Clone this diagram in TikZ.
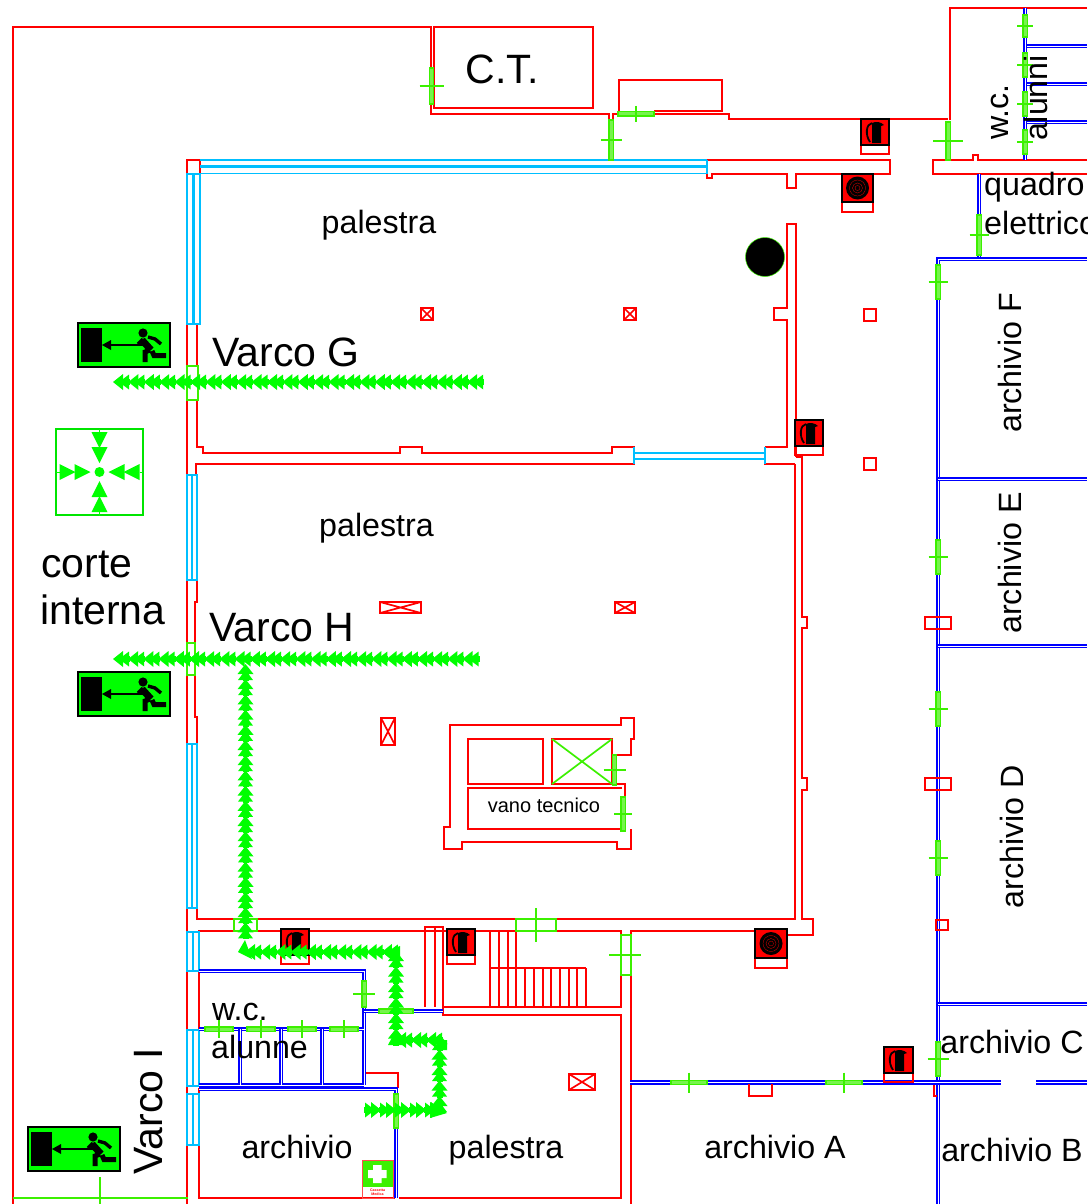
\documentclass[tikz,border=0pt]{standalone}
\usepackage{fontspec}
\setmainfont{Liberation Sans}
\definecolor{wred}{RGB}{255,0,0}
\definecolor{wblue}{RGB}{0,0,255}
\definecolor{wcyan}{RGB}{0,191,255}
\definecolor{dgreen}{RGB}{60,240,0}
\definecolor{agreen}{RGB}{0,255,0}
\tikzset{
  wl/.style={draw=wred,line width=1.7,line join=miter},
  bw/.style={draw=wblue,line width=2.1,double=white,double distance=0.7},
  cy/.style={draw=wcyan,line width=1.9},
  cym/.style={draw=wcyan,line width=2.6},
  gd/.style={draw=dgreen,line width=1.2,fill=dgreen!70},
  gw/.style={draw=dgreen,line width=1.7},
  gt/.style={draw=dgreen,line width=1.7},
  gf/.style={fill=agreen},
  lab/.style={anchor=base,inner sep=0,font=\fontsize{32.2}{32}\selectfont},
  labb/.style={anchor=base,inner sep=0,font=\fontsize{41}{41}\selectfont},
}
% vertical door: x, y1, y2, half tick
\newcommand\doorv[4]{\path[gd] (#1-2.1,#2) rectangle (#1+2.1,#3);\draw[gt] (#1-#4,#2/2+#3/2) -- (#1+#4,#2/2+#3/2);}
% horizontal door: y, x1, x2, half tick
\newcommand\doorh[4]{\path[gd] (#2,#1-2.1) rectangle (#3,#1+2.1);\draw[gt] (#2/2+#3/2,#1-#4) -- (#2/2+#3/2,#1+#4);}
% vertical window: x1, x2, y1, y2
\newcommand\winv[4]{\draw[cy] (#1,#3) rectangle (#2,#4);\draw[cym] (#1/2+#2/2,#3) -- (#1/2+#2/2,#4);}
% crossed pillar
\newcommand\pil[4]{\draw[wl] (#1,#2) rectangle (#3,#4) (#1,#2) -- (#3,#4) (#1,#4) -- (#3,#2);}
% green chain unit
\newcommand\gtri[3]{\begin{scope}[shift={(#1,#2)},rotate=#3]
  \fill[gf] (0,0) -- (10,-8) -- (10,8) -- cycle;
  \fill[gf] (6,0) -- (16,-7.5) -- (16,7.5) -- cycle;
  \fill[gf] (6,-3) rectangle (17,3);
\end{scope}}
% extinguisher
\newcommand\extA[4]{%
  \draw[wl] (#1,#4) rectangle (#3,#4+9);
  \draw[fill=wred,draw=black,line width=1.2] (#1,#2) rectangle (#3,#4);
  \begin{scope}[shift={(#1,#2)}]
    \draw[black,line width=1.8] (11,4) .. controls (5,5) and (4,16) .. (9,23);
    \fill[black] (11,4) .. controls (15,2) and (20,3) .. (23,6) -- (20,7) -- (20,24) -- (11,24) -- (11,8) -- cycle;
  \end{scope}}
\newcommand\extB[4]{%
  \draw[wl] (#1,#4) rectangle (#3,#4+10);
  \draw[fill=wred,draw=black,line width=2] (#1,#2) rectangle (#3,#4);
  \fill[black] (#1/2+#3/2,#2/2+#4/2) circle (11.5);
  \draw[wred,line width=.25] (#1/2+#3/2,#2/2+#4/2) circle (8) circle (5) circle (2.5);}
% exit sign at top-left corner
\newcommand\exitsign[2]{%
  \begin{scope}[shift={(#1,#2)}]
    \draw[fill=agreen,draw=black,line width=2.4] (0,0) rectangle (92,44);
    \fill[black] (3,5) rectangle (24,39);
    \draw[black,line width=2.6] (30,22) -- (68,22);
    \fill[black] (24,22) -- (33,17) -- (33,27) -- cycle;
    \fill[black] (65,10) circle (4.6);
    \draw[black,line width=7] (64,17) -- (73,27);
    \draw[black,line width=3.4] (70,14) -- (77,16) -- (83,21);
    \draw[black,line width=3.4] (65,16) -- (60,21);
    \draw[black,line width=5] (72,27) -- (67,29) -- (67,39);
    \draw[black,line width=5] (74,28) -- (76,32.5) -- (88,32.5);
  \end{scope}}
\begin{document}
\begin{tikzpicture}[x=1pt,y=-1pt]
\useasboundingbox (0,0) rectangle (1087,1204);
\clip (0,0) rectangle (1087,1204);
\fill[white] (0,0) rectangle (1087,1204);

% ---- red walls
\draw[wl] (13,1204) -- (13,27) -- (431,27) -- (431,114) -- (609,114) -- (609,119);
\draw[wl] (434,27) rectangle (593,108);
\draw[wl] (613,119) -- (613,114) -- (619,114) -- (619,80) -- (722,80) -- (722,111) -- (654,111);
\draw[wl] (654,114) -- (729,114) -- (729,119) -- (948,119);
\draw[wl] (950,120) -- (950,8) -- (1087,8);
\draw[wl] (949,160) -- (933,160) -- (933,174) -- (1087,174);
\draw[wl] (949,160) -- (973,160) -- (973,155) -- (978,155) -- (978,160) -- (1087,160);
\draw[wl] (707,160) -- (890,160) -- (890,174) -- (796,174) -- (796,188) -- (787,188) -- (787,174) -- (712,174) -- (712,178) -- (707,178) -- (707,174);
\draw[wl] (187,160) rectangle (200,174);
% upper gym
\draw[wl] (187,324) -- (187,366) (187,400) -- (187,475);
\draw[wl] (197,324) -- (197,366) (197,400) -- (197,447) -- (203,447) -- (203,453) -- (400,453) -- (400,447) -- (422,447) -- (422,453) -- (612,453) -- (612,447) -- (634,447) -- (634,464) -- (196,464) -- (196,475);
\draw[wl] (765,447) -- (765,464) -- (795,464);
\draw[wl] (765,447) -- (787,447) -- (787,320) -- (774,320) -- (774,308) -- (787,308) -- (787,224) -- (796,224) -- (796,457);
\draw[wl] (795,464) -- (795,919) -- (556,919);
\draw[wl] (796,457) -- (802,457) -- (802,617) -- (807,617) -- (807,628) -- (802,628) -- (802,778) -- (807,778) -- (807,790) -- (802,790) -- (802,919) -- (813,919) -- (813,935) -- (787,935);
% lower gym left
\draw[wl] (187,580) -- (187,643) (187,675) -- (187,744);
\draw[wl] (197,580) -- (197,602) -- (195,602) -- (195,643) (195,675) -- (195,717) -- (197,717) -- (197,744);
\draw[wl] (187,908) -- (187,1204);
\draw[wl] (197,908) -- (197,919) -- (516,919);
\draw[wl] (199,971) -- (199,931) -- (234,931) (257,931) -- (516,931) (556,931) -- (621,931) -- (621,935) (631,935) -- (631,931) -- (755,931);
\draw[wl] (199,1030) -- (199,971) (199,1088) -- (199,1198) -- (395,1198) (399,1198) -- (621,1198) -- (621,1015) -- (443,1015) -- (443,1007) -- (621,1007) -- (621,975);
\draw[wl] (631,975) -- (631,1204);
\draw[wl] (365,1073) -- (398,1073) -- (398,1088);
% stairs
\draw[wl] (425,1007) -- (425,927) -- (443,927) -- (443,1007) (435,927) -- (435,1007);
\foreach \s in {490,499,508,516}{\draw[wl] (\s,931) -- (\s,1006);}
\draw[wl] (490,968) -- (586,968);
\foreach \s in {525,534,543,551,560,569,577,586}{\draw[wl] (\s,968) -- (\s,1006);}
% vano tecnico
\draw[wl] (613,755) -- (631,755) -- (631,739) -- (634,739) -- (634,718) -- (621,718) -- (621,725) -- (450,725) -- (450,827) -- (444,827) -- (444,849) -- (462,849) -- (462,842) -- (617,842) -- (617,849) -- (631,849) -- (631,829);
\draw[wl] (468,739) rectangle (543,784);
\draw[wl] (552,739) rectangle (612,784);
\draw[wl] (622,829) -- (468,829) -- (468,788) -- (622,788);
\draw[wl] (613,784) -- (625,784) -- (625,798);
\draw[gt] (552,739) -- (612,784) (552,784) -- (612,739);
% pillars
\pil{421}{308}{433}{320}
\pil{624}{308}{636}{320}
\pil{380}{602}{421}{613}
\pil{615}{602}{635}{613}
\pil{381}{718}{395}{745}
\pil{569}{1074}{595}{1090}
\draw[wl] (864,309) rectangle (876,321) (864,458) rectangle (876,470);
% black column
\draw[fill=black,draw=dgreen,line width=.5] (765,257) circle (19.5);

% ---- cyan windows
\draw[cy] (200,160) -- (707,160) (200,173.5) -- (707,173.5) (707,160) -- (707,174);
\draw[cym] (200,166.5) -- (707,166.5);
\winv{187}{200}{174}{324}
\winv{187}{197}{475}{580}
\winv{187}{197}{744}{908}
\winv{187}{199}{932}{971}
\winv{187}{199}{1030}{1086}
\winv{187}{199}{1094}{1145}
\draw[cy] (634,447) -- (634,464) (765,447) -- (765,464) (634,453) -- (765,453);
\draw[cym] (634,459) -- (765,459);

% ---- blue walls
\path[bw] (199,971) -- (364,971) -- (364,1085);
\path[bw] (199,1029) -- (364,1029);
\path[bw] (199,1085) -- (364,1085);
\foreach \s in {240,281,322}{\path[bw] (\s,1029) -- (\s,1085);}
\path[bw] (364,1011) -- (443,1011);
\path[bw] (199,1089) -- (396,1089) -- (396,1198);
\path[bw] (979,174) -- (979,259);
\path[bw] (1087,259) -- (938,259) -- (938,1204);
\path[bw] (938,479) -- (1087,479);
\path[bw] (938,646) -- (1087,646);
\path[bw] (938,1004) -- (1087,1004);
\path[bw] (630,1082.5) -- (1001,1082.5);
\path[bw] (1036,1082.5) -- (1087,1082.5);
\path[bw] (1025,8) -- (1025,160);
\path[bw] (1027,46) -- (1087,46);
\path[bw] (1027,84) -- (1087,84);
\path[bw] (1027,122) -- (1087,122);
% piers on the blue wall
\draw[wl] (925,617) rectangle (951,629);
\draw[wl] (925,778) rectangle (951,790);
\draw[wl] (936,920) rectangle (948,930);
\draw[wl] (749,1084) -- (749,1096) -- (772,1096) -- (772,1084);
\draw[wl] (934,1085) -- (934,1096) -- (937,1096);

% ---- green doors
\doorv{431.5}{68}{104}{12}
\doorv{611}{120}{160}{10.5}
\doorv{948}{122}{160}{15}
\doorv{979}{215}{255}{9.5}
\doorv{938}{265}{299}{9.5}
\doorv{938}{540}{574}{9.5}
\doorv{938}{692}{726}{9.5}
\doorv{938}{841}{875}{9.5}
\doorv{938}{1042}{1076}{10.5}
\doorv{1025}{15}{37}{8}
\doorv{1025}{53}{77}{8}
\doorv{1025}{92}{116}{8}
\doorv{1025}{130}{154}{8}
\doorv{364}{981}{1007}{11}
\doorv{396}{1094}{1128}{8}
\doorv{614.5}{755}{785}{11}
\doorv{623}{797}{831}{9}
\doorh{114}{618}{654}{8}
\doorh{1082.5}{671}{707}{10}
\doorh{1082.5}{826}{862}{10}
\doorh{1029}{205}{233}{9}
\doorh{1029}{247}{275}{9}
\doorh{1029}{288}{316}{9}
\doorh{1029}{330}{358}{9}
\doorh{1011}{379}{413}{0}
\draw[gw] (187,366) rectangle (198,400);
\draw[gw] (187,643) rectangle (195,675);
\draw[gw] (234,919) rectangle (257,931);
\draw[gw] (516,919) rectangle (556,931);
\draw[gt] (536,908) -- (536,942);
\draw[gw] (621,935) rectangle (631,975);
\draw[gt] (609,955) -- (641,955);
\draw[gt] (13,1198) -- (188,1198);
\draw[gt] (100,1177) -- (100,1204);

% ---- extinguishers
\extA{861}{119}{889}{145}
\extB{842}{174}{873}{202}
\extA{795}{420}{823}{446}
\extB{755}{929}{787}{958}
\extA{884}{1047}{913}{1073}
\extA{281}{929}{309}{955}
\extA{447}{929}{475}{955}

% ---- green route arrows
\foreach \i in {0,...,23}{\gtri{113+\i*15.4}{382}{0}}
\foreach \i in {0,...,23}{\gtri{113+\i*15.2}{659}{0}}
\foreach \i in {0,...,17}{\gtri{245.5}{664+\i*15.2}{-90}}
\foreach \i in {0,...,9}{\gtri{245+\i*15.2}{952}{0}}
\foreach \i in {0,...,5}{\gtri{396}{951+\i*15.5}{-90}}
\foreach \i in {0,...,2}{\gtri{396+\i*15}{1040}{0}}
\foreach \i in {0,...,4}{\gtri{439.5}{1034+\i*15.5}{-90}}
\foreach \i in {0,...,4}{\gtri{381+\i*15}{1110}{180}}
\fill[gf] (245,940) -- (238,952) -- (252,959) -- cycle;
\fill[gf] (400,946) -- (400,962) -- (385,952) -- cycle;
\fill[gf] (396,1030) -- (388,1045) -- (404,1045) -- cycle;
\fill[gf] (431,1040) -- (447,1040) -- (447,1050) -- cycle;
\fill[gf] (447,1113) -- (430,1118) -- (430,1102) -- cycle;

% ---- assembly point
\draw[draw=agreen!90!black,line width=1.6] (56,429) rectangle (143,515);
\begin{scope}[shift={(99.5,472)}]
  \fill[gf] (0,0) circle (5);
  \foreach \r in {0,90,180,270}{
    \begin{scope}[rotate=\r]
      \fill[gf] (9,0) -- (25,-8) -- (25,8) -- cycle;
      \fill[gf] (24,0) -- (40,-8) -- (40,8) -- cycle;
      \draw[agreen,line width=.8] (40,0) -- (43.5,0);
    \end{scope}}
\end{scope}

% ---- exit signs
\exitsign{78}{323}
\exitsign{78}{672}
\exitsign{28}{1127}

% ---- first aid
\draw[draw=wred!70,line width=1] (362,1160) rectangle (393,1198);
\fill[dgreen] (362.5,1160.5) rectangle (392.5,1187);
\fill[white] (373,1165) rectangle (381.5,1183) (368,1170) rectangle (386.5,1178);
\node[inner sep=0,text=wred,align=center,font=\fontsize{3.6}{3.8}\selectfont\bfseries] (fa) at (377.5,1192.5) {Cassetta\\Medica};

% ---- labels
\node[lab] (l1) at (379,233) {palestra};
\node[lab] (l2) at (376.5,536) {palestra};
\node[lab] (l3) at (506,1158) {palestra};
\node[lab] (l4) at (297,1158) {archivio};
\node[lab] (l5) at (775,1158) {archivio A};
\node[lab] (l6) at (1012,1161) {archivio B};
\node[lab] (l7) at (1012,1053) {archivio C};
\node[lab,anchor=base west] (l8) at (212,1020) {w.c.};
\node[lab,anchor=base west] (l9) at (211,1058) {alunne};
\node[lab,anchor=base west] (l10) at (984,195) {quadro};
\node[lab,anchor=base west] (l11) at (984,234) {elettrico};
\node[lab,rotate=90] (l12) at (1021.5,363) {archivio F};
\node[lab,rotate=90] (l13) at (1021.5,563) {archivio E};
\node[lab,rotate=90] (l14) at (1023.5,837) {archivio D};
\node[lab,rotate=90] (l15) at (1008,112) {w.c.};
\node[lab,rotate=90] (l16) at (1047,98) {alunni};
\node[labb] (l17) at (286,366) {Varco G};
\node[labb] (l18) at (282,641) {Varco H};
\node[labb,rotate=90] (l19) at (162,1111) {Varco I};
\node[labb,anchor=base west] (l20) at (41,577) {corte};
\node[labb,anchor=base west] (l21) at (40,624) {interna};
\node[labb] (l22) at (502,84) {C.T.};
\node[anchor=base,inner sep=0,font=\fontsize{20}{20}\selectfont] (l23) at (544,812) {vano tecnico};
\end{tikzpicture}
\end{document}
